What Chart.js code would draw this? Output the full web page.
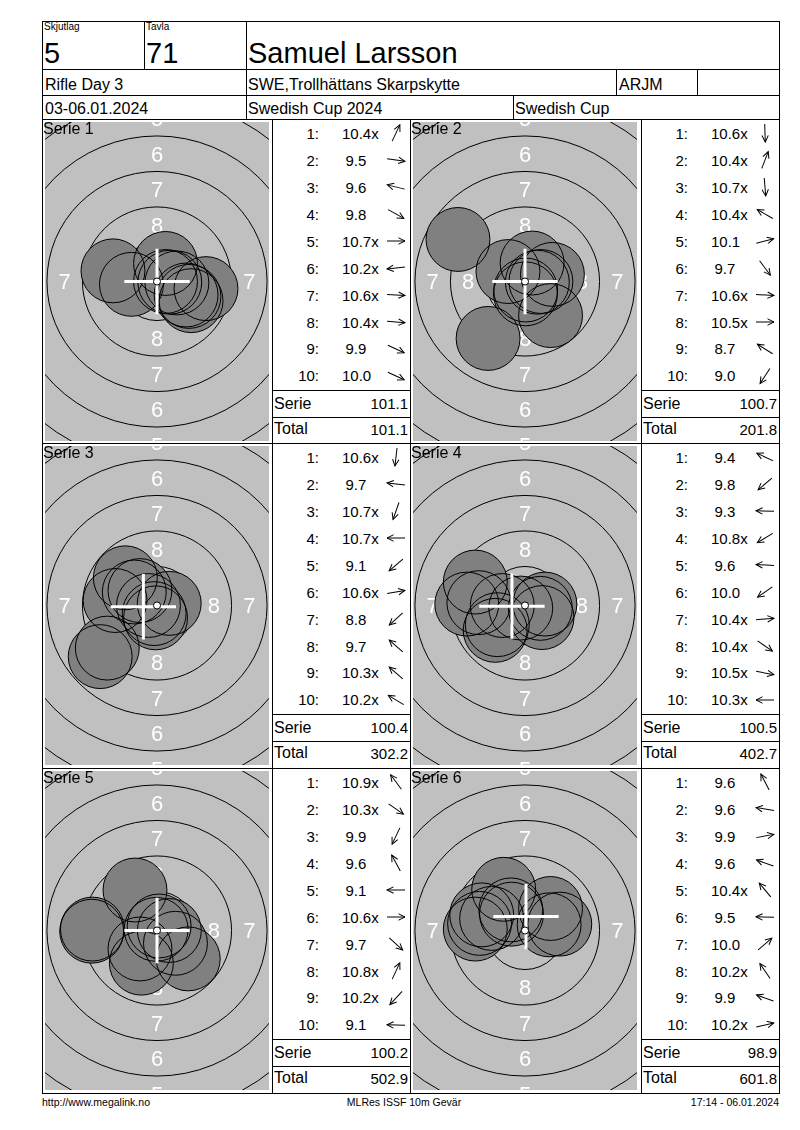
<!DOCTYPE html>
<html><head><meta charset="utf-8">
<script src="https://cdn.jsdelivr.net/npm/chart.js@4.4.1/dist/chart.umd.min.js"></script>
<style>
body{margin:0;background:#fff;font-family:"Liberation Sans",Arial,sans-serif;color:#000;}
#page{position:relative;width:800px;height:1130px;overflow:hidden;}
canvas{position:absolute;}
</style></head><body><div id="page"></div>
<script>
// ---------- DATA ----------
const headerLabels = ["Skjutlag", "Tavla"];
const headerValues = ["5", "71"];
const shooterName = "Samuel Larsson";
const eventName = "Rifle Day 3";
const clubName = "SWE,Trollhättans Skarpskytte";
const classCode = "ARJM";
const dates = "03-06.01.2024";
const competition = "Swedish Cup 2024";
const cupName = "Swedish Cup";
const footerTexts = ["http://www.megalink.no", "MLRes ISSF 10m Gevär", "17:14 - 06.01.2024"];

const seriesNames = ["Serie 1", "Serie 2", "Serie 3", "Serie 4", "Serie 5", "Serie 6"];

const scores1 = ["10.4x","9.5","9.6","9.8","10.7x","10.2x","10.6x","10.4x","9.9","10.0"];
const shotX1  = [0.60, 3.45, -3.10, 2.40, 0.60, -1.80, 0.90, 1.40, 2.25, 2.05];
const shotY1  = [1.27, -0.50, 0.75, -1.35, 0.00, -0.20, -0.05, -0.10, -1.05, -0.95];

const scores2 = ["10.6x","10.4x","10.7x","10.4x","10.1","9.7","10.6x","10.5x","8.7","9.0"];
const shotX2  = [0.03, 0.50, 0.05, -1.20, 1.93, 1.80, 0.87, 1.12, -4.72, -2.60];
const shotY2  = [-0.87, 1.30, -0.60, 0.70, 0.50, -2.40, -0.05, 0.00, 2.96, -4.01];

const scores3 = ["10.6x","9.7","10.7x","10.7x","9.1","10.6x","8.8","9.7","10.3x","10.2x"];
const shotX3  = [-0.10, -2.95, -0.20, -0.60, -3.50, 0.86, -4.00, -2.23, -1.20, -1.60];
const shotY3  = [-0.87, 0.35, -0.57, 0.00, -3.00, 0.15, -3.60, 1.95, 1.05, 0.95];

const scores4 = ["9.4","9.8","9.3","10.8x","9.6","10.0","10.4x","10.4x","10.5x","10.3x"];
const shotX4  = [-3.50, -2.10, -4.10, -0.30, -3.25, -1.95, 1.40, 1.20, 1.08, -1.60];
const shotY4  = [1.65, -1.75, 0.10, -0.18, 0.20, -1.35, 0.10, -0.85, -0.20, 0.00];

const scores5 = ["10.9x","10.3x","9.9","9.6","9.1","10.6x","9.7","10.8x","10.2x","9.1"];
const shotX5  = [-0.06, 1.30, -1.10, -1.55, -4.60, 0.87, 2.20, 0.15, -1.20, -4.55];
const shotY5  = [0.08, -0.90, -2.30, 2.85, -0.05, 0.00, -2.00, 0.32, -1.30, 0.10];

const scores6 = ["9.6","9.6","9.9","9.6","10.4x","9.5","10.0","10.2x","9.9","10.2x"];
const shotX6  = [-1.50, -3.20, 2.45, -3.05, -0.95, -3.50, 1.80, -1.00, -2.35, 1.70];
const shotY6  = [2.90, 0.50, 0.45, 1.10, 1.15, 0.10, 1.55, 1.45, 0.85, 0.40];

const crossX = [0.00, 0.00, -0.96, -0.92, 0.00, 0.07];
const crossY = [0.00, 0.00, -0.09, -0.05, 0.00, 0.98];

const serieSums = ["101.1", "100.7", "100.4", "100.5", "100.2", "98.9"];
const runningTotals = ["101.1", "201.8", "302.2", "402.7", "502.9", "601.8"];

const ringValues = [9, 8, 7, 6, 5, 4];
const ringRadiiMm = [2.75, 5.25, 7.75, 10.25, 12.75, 15.25];
const ringLabelValues = [8, 7, 6, 5, 4];
const pelletRadiusMm = 2.25;
const tenDotRadiusMm = 0.25;
const crossHalfMm = 2.3;

// ---------- LAYOUT ----------
const allScores = [scores1, scores2, scores3, scores4, scores5, scores6];
const allX = [shotX1, shotX2, shotX3, shotX4, shotX5, shotX6];
const allY = [shotY1, shotY2, shotY3, shotY4, shotY5, shotY6];

const page = document.getElementById('page');
function el(tag, css, txt) {
  const e = document.createElement(tag);
  Object.assign(e.style, css);
  if (txt != null) e.textContent = txt;
  page.appendChild(e);
  return e;
}
function hline(x1, x2, y) { el('div', {position:'absolute', left:x1+'px', top:y+'px', width:(x2-x1+1)+'px', height:'1px', background:'#000'}); }
function vline(x, y1, y2) { el('div', {position:'absolute', left:x+'px', top:y1+'px', width:'1px', height:(y2-y1+1)+'px', background:'#000'}); }
function text(x, yc, str, size, align) {
  const css = {position:'absolute', top:(yc - size*0.4885)+'px', fontSize:size+'px', lineHeight:size+'px', whiteSpace:'pre', zIndex:5};
  if (align === 'right') { css.right = (800 - x) + 'px'; }
  else if (align === 'center') { css.left = (x - 200) + 'px'; css.width = '400px'; css.textAlign = 'center'; }
  else { css.left = x + 'px'; }
  return el('div', css, str);
}

const L = 42, R = 779;
const TOP = 21;
// header grid
hline(L, R, TOP); hline(L, R, 69); hline(L, R, 95);
vline(L, TOP, 1093); vline(R, TOP, 1093);
vline(144, TOP, 69); vline(246, TOP, 119);
vline(616, 69, 95); vline(697, 69, 95);
vline(513, 95, 119);

text(44, 27, headerLabels[0], 10);
text(146, 27, headerLabels[1], 10);
text(44, 53.5, headerValues[0], 29);
text(146, 53.5, headerValues[1], 29);
text(248, 53.5, shooterName, 29);
text(45, 85, eventName, 16);
text(248, 85, clubName, 16);
text(619, 85, classCode, 16);
text(45, 108.5, dates, 16);
text(248, 108.5, competition, 16);
text(515, 108.5, cupName, 16);

// panels
const blockTops = [119, 443, 768];
const blockBottom = 1093;
blockTops.forEach(t => hline(L, R, t));
hline(L, R, blockBottom);
[272, 410, 641].forEach(x => vline(x, 119, blockBottom));

const targetLefts = [45, 413];
const tableLefts = [272, 641];
const canvasW = 224, canvasH = 319;
const pxPerMm = 14.2;
const xMax = canvasW / 2 / pxPerMm, yMax = canvasH / 2 / pxPerMm;

const svgNS = 'http://www.w3.org/2000/svg';
function arrow(cx, cy, angleDeg) {
  const s = document.createElementNS(svgNS, 'svg');
  s.setAttribute('width', '22'); s.setAttribute('height', '22');
  Object.assign(s.style, {position:'absolute', left:(cx-11)+'px', top:(cy-11)+'px', transform:'rotate(' + (-angleDeg) + 'deg)', overflow:'visible'});
  const ln = document.createElementNS(svgNS, 'line');
  ln.setAttribute('x1', '2'); ln.setAttribute('y1', '11'); ln.setAttribute('x2', '20'); ln.setAttribute('y2', '11');
  const hd = document.createElementNS(svgNS, 'polyline');
  hd.setAttribute('points', '13.5,7.8 20,11 13.5,14.2');
  [ln, hd].forEach(p => { p.setAttribute('stroke', '#000'); p.setAttribute('stroke-width', '1'); p.setAttribute('fill', 'none'); s.appendChild(p); });
  page.appendChild(s);
}

const targetPlugin = {
  id: 'target',
  beforeDatasetsDraw(chart) {
    const {ctx, chartArea: a, scales: {x, y}} = chart;
    const cx = x.getPixelForValue(0), cy = y.getPixelForValue(0);
    const k = x.getPixelForValue(1) - cx;
    ctx.save();
    ctx.beginPath(); ctx.rect(a.left, a.top, a.right - a.left, a.bottom - a.top); ctx.clip();
    ctx.fillStyle = '#c0c0c0';
    ctx.fillRect(a.left, a.top, a.right - a.left, a.bottom - a.top);
    ctx.strokeStyle = '#000'; ctx.lineWidth = 1;
    ringRadiiMm.forEach(r => { ctx.beginPath(); ctx.arc(cx, cy, r * k, 0, Math.PI * 2); ctx.stroke(); });
    ctx.fillStyle = '#ffffff';
    ctx.font = '22px "Liberation Sans", Arial, sans-serif';
    ctx.textAlign = 'center'; ctx.textBaseline = 'alphabetic';
    ringLabelValues.forEach(v => {
      const i = ringValues.indexOf(v);
      const m = (ringRadiiMm[i - 1] + ringRadiiMm[i]) / 2;
      const off = 22 * 0.358;
      ctx.fillText(String(v), cx, y.getPixelForValue(m) + off);
      ctx.fillText(String(v), cx, y.getPixelForValue(-m) + off);
      ctx.fillText(String(v), x.getPixelForValue(-m), cy + off);
      ctx.fillText(String(v), x.getPixelForValue(m), cy + off);
    });
    ctx.restore();
  },
  afterDatasetsDraw(chart, args, opts) {
    const {ctx, scales: {x, y}} = chart;
    const i = opts.index;
    const mx = x.getPixelForValue(crossX[i]), my = y.getPixelForValue(crossY[i]);
    const cl = x.getPixelForValue(crossHalfMm) - x.getPixelForValue(0);
    ctx.save();
    ctx.strokeStyle = '#ffffff'; ctx.lineWidth = 3; ctx.lineCap = 'butt';
    ctx.beginPath();
    ctx.moveTo(mx - cl, my); ctx.lineTo(mx + cl, my);
    ctx.moveTo(mx, my - cl); ctx.lineTo(mx, my + cl);
    ctx.stroke();
    const cx = x.getPixelForValue(0), cy = y.getPixelForValue(0);
    const dr = x.getPixelForValue(tenDotRadiusMm) - cx;
    ctx.beginPath(); ctx.arc(cx, cy, dr, 0, Math.PI * 2);
    ctx.fillStyle = '#ffffff'; ctx.fill();
    ctx.strokeStyle = '#000'; ctx.lineWidth = 1; ctx.stroke();
    ctx.restore();
  }
};

function pelletPx(c) {
  const sx = c.chart.scales.x;
  if (!sx) return pelletRadiusMm * pxPerMm;
  return Math.abs(sx.getPixelForValue(pelletRadiusMm) - sx.getPixelForValue(0));
}

for (let i = 0; i < 6; i++) {
  const row = Math.floor(i / 2), col = i % 2;
  const bt = blockTops[row];
  const tl = tableLefts[col];
  // target canvas
  const c = document.createElement('canvas');
  c.width = canvasW; c.height = canvasH;
  Object.assign(c.style, {left: targetLefts[col] + 'px', top: (bt + 3) + 'px', width: canvasW + 'px', height: canvasH + 'px'});
  page.appendChild(c);
  const pts = allX[i].map((v, j) => ({x: v, y: allY[i][j]}));
  new Chart(c, {
    type: 'scatter',
    data: {datasets: [
      {data: pts, pointRadius: pelletPx, pointBackgroundColor: 'rgba(0,0,0,0)', pointBorderColor: '#000', pointBorderWidth: 1, clip: false},
      {data: pts, pointRadius: pelletPx, pointBackgroundColor: '#808080', pointBorderColor: 'rgba(0,0,0,0)', pointBorderWidth: 0, clip: false}
    ]},
    options: {
      responsive: false, animation: false, events: [],
      layout: {padding: 0, autoPadding: false},
      plugins: {legend: {display: false}, tooltip: {enabled: false}, target: {index: i}},
      scales: {
        x: {type: 'linear', min: -xMax, max: xMax, display: false},
        y: {type: 'linear', min: -yMax, max: yMax, display: false}
      }
    },
    plugins: [targetPlugin]
  });
  text(targetLefts[col] - 2, bt + 9.5, seriesNames[i], 16);

  // table
  hline(tl, tl + 138, bt + 271);
  hline(tl, tl + 138, bt + 298);
  for (let j = 0; j < 10; j++) {
    const yc = bt + 14.3 + 26.94 * j;
    text(tl + 47, yc, (j + 1) + ':', 15, 'right');
    const sc = allScores[i][j];
    const pad = parseFloat(sc) < 10 ? 3.5 : 0;
    text(tl + 70 + pad, yc, sc, 15);
    const ang = Math.atan2(allY[i][j], allX[i][j]) * 180 / Math.PI;
    arrow(tl + 124, yc, ang);
  }
  text(tl + 2, bt + 284.7, 'Serie', 16);
  text(tl + 136, bt + 284.7, serieSums[i], 15, 'right');
  text(tl + 2, bt + 310, 'Total', 16);
  text(tl + 136, bt + 310, runningTotals[i], 15, 'right');
}

// footer
text(42, 1102, footerTexts[0], 10.5);
text(404, 1102, footerTexts[1], 10.5, 'center');
text(779, 1102, footerTexts[2], 10.5, 'right');
</script>
</body></html>
